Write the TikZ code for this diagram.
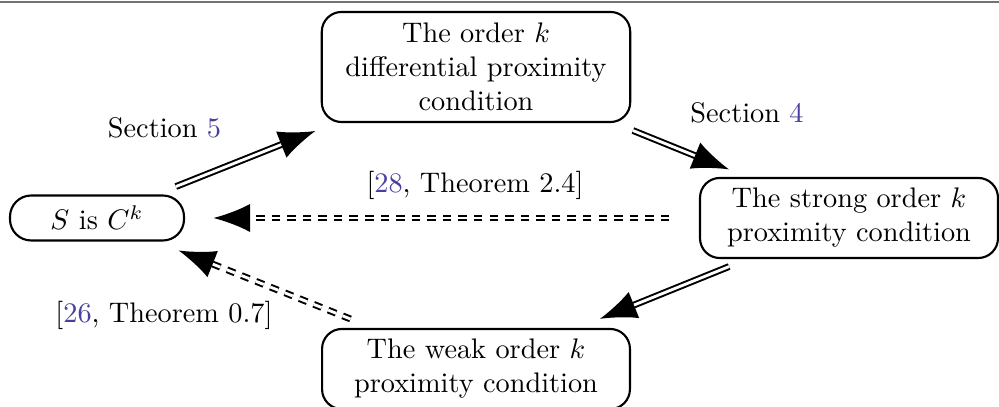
\documentclass[tikz,border=0pt]{standalone}
\usetikzlibrary{arrows.meta}
\definecolor{citeblue}{RGB}{72,64,160}
\begin{document}
\begin{tikzpicture}[x=0.3534pt,y=-0.3534pt,
 box/.style={draw, line width=0.75pt, rounded corners=7pt, align=center, inner sep=2pt},
 imp/.style={double, line width=0.7pt, double distance=1pt, -{Latex[length=13pt,width=10pt]}},
 dimp/.style={imp, dash pattern=on 3pt off 2.5pt}]
\useasboundingbox (0,0) rectangle (999,407);
\draw[black!55, line width=0.7pt] (0,2.5) -- (999,2.5);
\node[box, minimum width=109pt, minimum height=38.9pt] (D) at (476,67) {The order $k$\\ differential proximity\\ condition};
\node[box, minimum width=61.5pt, minimum height=15.9pt, rounded corners=7.5pt] (S) at (97,218) {$S$ is $C^k$};
\node[box, minimum width=105.3pt, minimum height=28.3pt] (St) at (849,218) {The strong order $k$\\ proximity condition};
\node[box, minimum width=108.8pt, minimum height=28.3pt] (W) at (476,369) {The weak order $k$\\ proximity condition};
\draw[imp, shorten <=7.5pt, shorten >=7.5pt] (S) -- (D);
\draw[imp, shorten <=7pt, shorten >=7pt] (D) -- (St);
\draw[imp, shorten <=7pt, shorten >=8.5pt] (St) -- (W);
\draw[dimp, shorten <=10.5pt, shorten >=10pt] (St) -- (S);
\draw[dimp, shorten <=8.5pt, shorten >=8.5pt] (W) -- (S);
\node[anchor=base] (l5) at (164.5,138) {Section \textcolor{citeblue}{5}};
\node[anchor=base] (l4) at (747,122.7) {Section \textcolor{citeblue}{4}};
\node[anchor=base] (l28) at (475,193) {[\textcolor{citeblue}{28}, Theorem 2.4]};
\node[anchor=base] (l26) at (164,323) {[\textcolor{citeblue}{26}, Theorem 0.7]};
\end{tikzpicture}
\end{document}
